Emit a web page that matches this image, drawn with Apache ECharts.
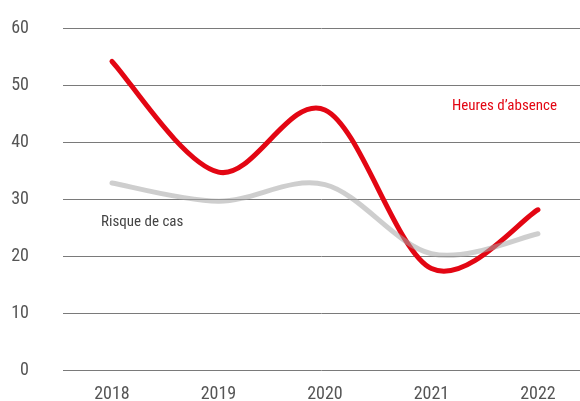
<!DOCTYPE html>
<html>
<head>
<meta charset="utf-8">
<script src="https://cdn.jsdelivr.net/npm/echarts@6/dist/echarts.min.js"></script>
<style>html,body{margin:0;padding:0;background:#fff;}#c{width:580px;height:401px;}</style>
</head>
<body>
<div id="c"></div>
<script>
var years = [2018, 2019, 2020, 2021, 2022];
var heuresAbsence = [54.2, 34.8, 45.7, 17.9, 28.2];
var risqueCas = [32.9, 29.7, 32.6, 20.5, 24.0];
var yTicks = [0, 10, 20, 30, 40, 50, 60];
var seriesNames = ['Heures d\u2019absence', 'Risque de cas'];

var FONT = '"Liberation Sans Narrow", "Arial Narrow", "Roboto Condensed", Roboto, sans-serif';
var chart = echarts.init(document.getElementById('c'), null, {renderer: 'canvas'});
function pairs(vals){ return years.map(function(y,i){ return [y, vals[i]]; }); }

// Catmull-Rom spline through the data points, projected with the chart's own axes
function splineRenderer(vals, stroke){
  return function(params, api){
    if (params.dataIndex !== 0) return null;
    var p = vals.map(function(v, i){ return api.coord([years[i], v]); });
    var n = p.length;
    var d = 'M' + p[0][0] + ' ' + p[0][1];
    for (var i = 0; i < n - 1; i++) {
      var p0 = p[Math.max(i - 1, 0)], p1 = p[i], p2 = p[i + 1], p3 = p[Math.min(i + 2, n - 1)];
      var c1x = p1[0] + (p2[0] - p0[0]) / 6, c1y = p1[1] + (p2[1] - p0[1]) / 6;
      var c2x = p2[0] - (p3[0] - p1[0]) / 6, c2y = p2[1] - (p3[1] - p1[1]) / 6;
      d += ' C' + c1x + ' ' + c1y + ' ' + c2x + ' ' + c2y + ' ' + p2[0] + ' ' + p2[1];
    }
    return {type: 'path', shape: {pathData: d},
      style: {stroke: stroke, lineWidth: 5, fill: null, lineCap: 'round', lineJoin: 'round'}};
  };
}

chart.setOption({
  animation: false,
  backgroundColor: '#fff',
  grid: {left: 63, right: 0, top: 28.3, bottom: 30.3, containLabel: false, outerBoundsMode: 'none'},
  xAxis: {
    type: 'value', min: 2017.54, max: 2022.395,
    axisLine: {show: false}, axisTick: {show: false}, splitLine: {show: false},
    axisLabel: {customValues: years, color: '#555', fontFamily: FONT, fontSize: 18, margin: 15,
      formatter: function(v){ return String(v); }}
  },
  yAxis: {
    type: 'value', min: 0, max: 60, interval: 10,
    axisLine: {show: false}, axisTick: {show: false},
    splitLine: {lineStyle: {color: '#7a7a7a', width: 1}},
    axisLabel: {color: '#555', fontFamily: FONT, fontSize: 18, margin: 34, padding: [0,0,12,0]}
  },
  series: [
    {name: seriesNames[0], type: 'custom', coordinateSystem: 'cartesian2d', clip: false,
     data: pairs(heuresAbsence), encode: {x: 0, y: 1},
     renderItem: splineRenderer(heuresAbsence, '#e30613'), z: 2},
    {name: seriesNames[1], type: 'custom', coordinateSystem: 'cartesian2d', clip: false,
     data: pairs(risqueCas), encode: {x: 0, y: 1},
     renderItem: splineRenderer(risqueCas, 'rgba(165,165,165,0.55)'), z: 3}
  ],
  graphic: [
    {type: 'text', left: 452, top: 99, style: {text: seriesNames[0], fill: '#e30613', font: '15px ' + FONT}},
    {type: 'text', left: 101, top: 215, style: {text: seriesNames[1], fill: '#444', font: '15px ' + FONT}}
  ]
});
</script>
</body>
</html>
